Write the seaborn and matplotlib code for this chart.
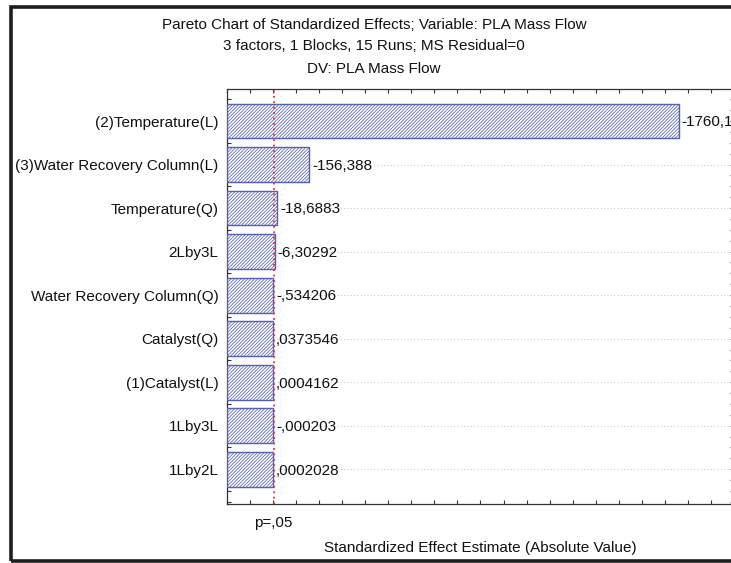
import matplotlib
matplotlib.use("Agg")
import matplotlib.pyplot as plt
import seaborn as sns
import numpy as np
import pandas as pd
from matplotlib.patches import Rectangle

# ---- data ----
effects = ["(2)Temperature(L)", "(3)Water Recovery Column(L)", "Temperature(Q)",
           "2Lby3L", "Water Recovery Column(Q)", "Catalyst(Q)",
           "(1)Catalyst(L)", "1Lby3L", "1Lby2L"]
estimates = [-1760.1, -156.388, -18.6883, -6.30292, -0.534206, 0.0373546,
             0.0004162, -0.000203, 0.0002028]
value_labels = ["-1760,1", "-156,388", "-18,6883", "-6,30292", "-,534206",
                ",0373546", ",0004162", "-,000203", ",0002028"]
p_crit = 2.5706
p_label = "p=,05"
title_lines = ["Pareto Chart of Standardized Effects; Variable: PLA Mass Flow",
               "3 factors, 1 Blocks, 15 Runs; MS Residual=0",
               "DV: PLA Mass Flow"]
xlabel = "Standardized Effect Estimate (Absolute Value)"

df = pd.DataFrame({"effect": effects, "abs_est": np.abs(estimates)})

sns.set_theme(style="ticks")
plt.rcParams["font.family"] = ["Liberation Sans", "DejaVu Sans"]
plt.rcParams["hatch.linewidth"] = 0.55

FS = 11
W, H = 731, 563
fig = plt.figure(figsize=(W / 100, H / 100), dpi=100)
fig.patch.set_facecolor("white")

# outer frame
fig.patches.append(Rectangle((10.7 / W, 1 - 561 / H), 1.2, (561 - 6.7) / H,
                             transform=fig.transFigure, fill=False,
                             edgecolor="#1e1e1e", linewidth=2.6, zorder=10))

ax = fig.add_axes([227 / W, 1 - 504 / H, (734 - 227) / W, (504 - 89) / H])
xmin, xmax = -200, 2000
bar_edge = "#5560b5"

sns.barplot(data=df, x="abs_est", y="effect", orient="h", ax=ax,
            width=0.8, color="white", edgecolor=bar_edge, linewidth=1.0,
            hatch="//////////", zorder=3, saturation=1)
for p in ax.patches:
    w = p.get_width()
    p.set_x(xmin)
    p.set_width(w - xmin)
    p.set_facecolor("white")
    p.set_edgecolor(bar_edge)

# value labels
for i, (v, lab) in enumerate(zip(np.abs(estimates), value_labels)):
    ax.annotate(lab, xy=(v, i), xytext=(2.2, -1), textcoords="offset points",
                va="center", ha="left", fontsize=FS, color="#111111", zorder=5,
                annotation_clip=False)

# critical line
ax.axvline(p_crit, color="#e03030", linestyle=(0, (1, 2)), linewidth=1.3, zorder=4)

# gridlines
for i in range(len(effects)):
    ax.axhline(i, color="#cfcfcf", linestyle=(0, (1, 2)), linewidth=0.8, zorder=1)

# ticks
ax.set_xticks(np.arange(-200, 2001, 100))
ax.set_xticklabels([])
ax.set_yticks(range(len(effects)))
ax.set_yticklabels(effects, fontsize=FS, color="#111111")
ax.set_yticks(np.arange(-0.5, len(effects) - 1 + 0.76, 0.25), minor=True)
ax.tick_params(axis="x", direction="in", length=3, width=0.8, top=True, bottom=True,
               color="#333333")
ax.tick_params(axis="y", which="both", direction="in", length=3, width=0.8,
               left=True, right=True, color="#333333", pad=6)
ax.set_xlabel("")
ax.set_ylabel("")
ax.set_xlim(xmin, xmax)
ax.set_ylim(len(effects) - 1 + 0.8, -0.736)
for s in ax.spines.values():
    s.set_color("#333333")
    s.set_linewidth(0.9)

ax.text(p_crit, -0.028, p_label, transform=ax.get_xaxis_transform(),
        ha="center", va="top", fontsize=FS, color="#111111")
fig.text(480 / W, 1 - 548 / H, xlabel, ha="center", va="center",
         fontsize=FS, color="#111111")

for k, (line, y) in enumerate(zip(title_lines, [25, 46, 69])):
    fig.text(374 / W, 1 - y / H, line, ha="center", va="center",
             fontsize=FS, color="#111111")

fig.savefig("out.png", dpi=100, facecolor="white")
